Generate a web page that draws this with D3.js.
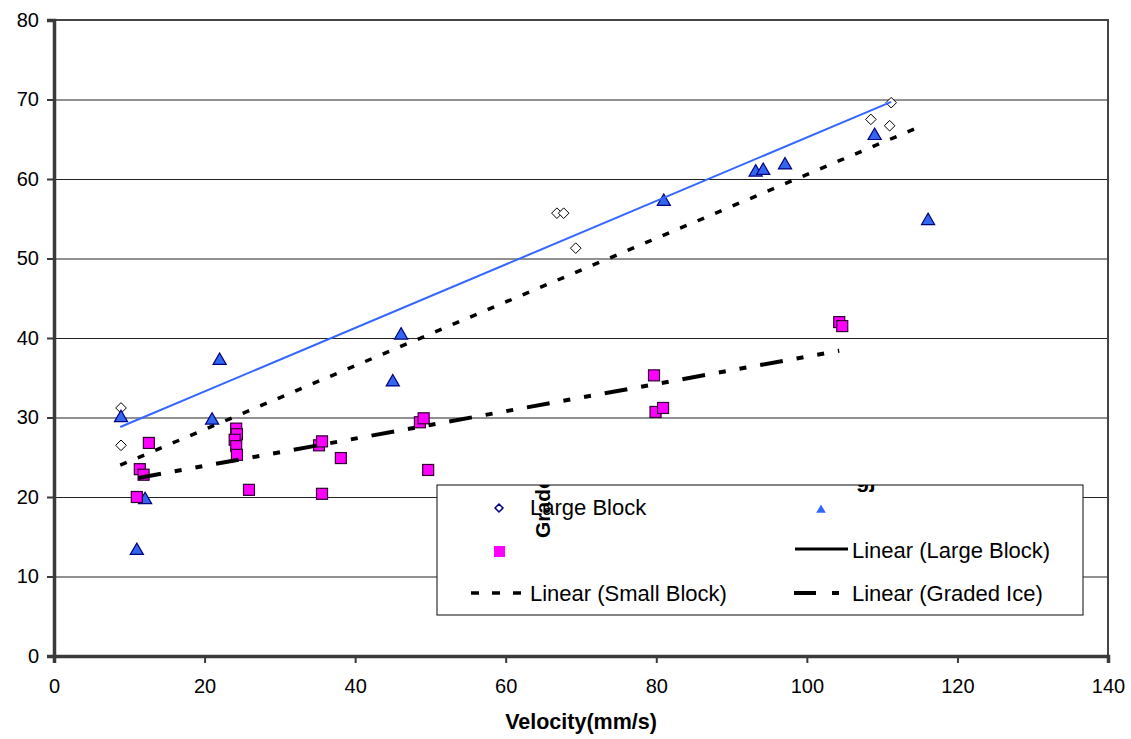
<!DOCTYPE html>
<html lang="en">
<head>
  <meta charset="UTF-8">
  <title>Velocity scatter</title>
  <script src="https://cdnjs.cloudflare.com/ajax/libs/d3/7.8.5/d3.min.js"></script>
  <style>
    body { margin: 0; background: white; }
    svg { font-family: Arial, "Liberation Sans", sans-serif; }
  </style>
</head>
<body>
  <script>
    // values: [velocity, y]
    var largeBlock = [
      [8.9, 31.2], [8.9, 26.5], [66.8, 55.7], [67.7, 55.7], [69.3, 51.3],
      [108.5, 67.5], [111.2, 69.6], [111.0, 66.7]
    ];
    var smallBlock = [
      [8.9, 30.2], [11.0, 13.5], [12.1, 19.9], [21.0, 29.9], [22.0, 37.4],
      [45.0, 34.7], [46.1, 40.6], [81.0, 57.4], [93.2, 61.1], [94.2, 61.3],
      [97.1, 62.0], [109.0, 65.7], [116.1, 55.0]
    ];
    var gradedIce = [
      [11.0, 20.0], [11.4, 23.5], [11.9, 22.8], [12.6, 26.8], [24.2, 28.6],
      [24.3, 27.9], [24.0, 27.2], [24.2, 26.4], [24.3, 25.3], [25.9, 20.9],
      [35.2, 26.5], [35.6, 27.0], [35.6, 20.4], [38.1, 24.9], [48.6, 29.4],
      [49.1, 29.9], [49.7, 23.4], [79.7, 35.3], [79.9, 30.7], [80.9, 31.2],
      [104.3, 42.0], [104.7, 41.5]
    ];
    // trend line end points
    var trendLarge = [[8.8, 28.8], [111.2, 69.7]];
    var trendSmall = [[8.8, 24.0], [115.3, 66.7]];
    var trendGraded = [[11.2, 22.4], [104.3, 38.4]];

    var xTicks = [0, 20, 40, 60, 80, 100, 120, 140];
    var yTicks = [0, 10, 20, 30, 40, 50, 60, 70, 80];

    var w = 1131, h = 739;
    var plotL = 54, plotR = 1108, plotT = 20, plotB = 656;

    var svg = d3.select("body").append("svg")
      .attr("width", w)
      .attr("height", h);

    var x = d3.scaleLinear().domain([0, 140]).range([plotL, plotR]);
    var y = d3.scaleLinear().domain([0, 80]).range([plotB, plotT]);

    // grid
    svg.append("g").selectAll("line")
      .data(yTicks.slice(1, -1))
      .enter().append("line")
      .attr("x1", plotL).attr("x2", plotR)
      .attr("y1", function(d) { return y(d) + 0.5; })
      .attr("y2", function(d) { return y(d) + 0.5; })
      .attr("stroke", "#222")
      .attr("stroke-width", 1);

    // frame
    svg.append("rect")
      .attr("x", plotL).attr("y", plotT)
      .attr("width", plotR - plotL).attr("height", plotB - plotT)
      .attr("fill", "none")
      .attr("stroke", "#444")
      .attr("stroke-width", 2);

    var xAxis = svg.append("g")
      .attr("transform", "translate(0," + plotB + ")")
      .call(d3.axisBottom(x).tickValues(xTicks).tickSize(7).tickPadding(16));
    var yAxis = svg.append("g")
      .attr("transform", "translate(" + plotL + ",0)")
      .call(d3.axisLeft(y).tickValues(yTicks).tickSize(7).tickPadding(8));

    [xAxis, yAxis].forEach(function(a) {
      a.select(".domain").attr("stroke", "#3a3a3a").attr("stroke-width", 3.5);
      a.selectAll(".tick line").attr("stroke", "#3a3a3a").attr("stroke-width", 2);
      a.selectAll(".tick text").attr("font-size", 20).attr("fill", "#000")
        .attr("font-family", "Arial, 'Liberation Sans', sans-serif");
    });

    svg.append("text")
      .attr("x", 581)
      .attr("y", 729)
      .attr("text-anchor", "middle")
      .attr("font-size", 21.5)
      .attr("font-weight", "bold")
      .text("Velocity(mm/s)");

    // markers
    var diamond = d3.symbol().type(d3.symbolDiamond2).size(72);
    var triangle = d3.symbol().type(d3.symbolTriangle).size(75);

    svg.append("g").selectAll("path")
      .data(largeBlock)
      .enter().append("path")
      .attr("d", diamond)
      .attr("transform", function(d) { return "translate(" + x(d[0]) + "," + y(d[1]) + ")"; })
      .attr("fill", "white")
      .attr("stroke", "#000")
      .attr("stroke-width", 1);

    // triangle symbol is centred on its centroid, nudge so the box centre sits on the value
    svg.append("g").selectAll("path")
      .data(smallBlock)
      .enter().append("path")
      .attr("d", triangle)
      .attr("transform", function(d) { return "translate(" + x(d[0]) + "," + (y(d[1]) + 2) + ")"; })
      .attr("fill", "#3366ee")
      .attr("stroke", "#000080")
      .attr("stroke-width", 1.2);

    svg.append("g").selectAll("rect")
      .data(gradedIce)
      .enter().append("rect")
      .attr("x", function(d) { return x(d[0]) - 5.5; })
      .attr("y", function(d) { return y(d[1]) - 5.5; })
      .attr("width", 11).attr("height", 11)
      .attr("fill", "#ff00ff")
      .attr("stroke", "#300030")
      .attr("stroke-width", 1.2);

    // trend lines
    var line = d3.line()
      .x(function(d) { return x(d[0]); })
      .y(function(d) { return y(d[1]); });

    svg.append("path").datum(trendLarge)
      .attr("d", line).attr("fill", "none")
      .attr("stroke", "#3366ff").attr("stroke-width", 2);
    svg.append("path").datum(trendSmall)
      .attr("d", line).attr("fill", "none")
      .attr("stroke", "#000").attr("stroke-width", 3.5)
      .attr("stroke-dasharray", "7,12");
    svg.append("path").datum(trendGraded)
      .attr("d", line).attr("fill", "none")
      .attr("stroke", "#000").attr("stroke-width", 4)
      .attr("stroke-dasharray", "23,14,7,14,7,14");

    // legend
    var lg = { x: 437, y: 485, w: 646, h: 130 };
    svg.append("clipPath").attr("id", "legclip")
      .append("rect").attr("x", lg.x).attr("y", lg.y).attr("width", lg.w).attr("height", lg.h);

    var legend = svg.append("g");
    legend.append("rect")
      .attr("x", lg.x).attr("y", lg.y)
      .attr("width", lg.w).attr("height", lg.h)
      .attr("fill", "white")
      .attr("stroke", "#333")
      .attr("stroke-width", 1.2);

    legend.append("path")
      .attr("d", d3.symbol().type(d3.symbolDiamond2).size(40))
      .attr("transform", "translate(499,508)")
      .attr("fill", "white").attr("stroke", "#000080").attr("stroke-width", 1.5);
    legend.append("path")
      .attr("d", d3.symbol().type(d3.symbolTriangle).size(40))
      .attr("transform", "translate(821,510)")
      .attr("fill", "#3366ff");
    legend.append("rect")
      .attr("x", 494).attr("y", 546).attr("width", 11).attr("height", 11)
      .attr("fill", "#ff00ff");

    legend.append("line")
      .attr("x1", 795).attr("x2", 848).attr("y1", 549).attr("y2", 549)
      .attr("stroke", "#000").attr("stroke-width", 3);
    legend.append("line")
      .attr("x1", 471).attr("x2", 522).attr("y1", 593).attr("y2", 593)
      .attr("stroke", "#000").attr("stroke-width", 3.5)
      .attr("stroke-dasharray", "8,13");
    legend.append("line")
      .attr("x1", 794).attr("x2", 846).attr("y1", 593).attr("y2", 593)
      .attr("stroke", "#000").attr("stroke-width", 4)
      .attr("stroke-dasharray", "22,16,7,20");

    var legText = [
      { t: "Large Block", x: 530, y: 515 },
      { t: "Linear (Large Block)", x: 852, y: 558 },
      { t: "Linear (Small Block)", x: 530, y: 601 },
      { t: "Linear (Graded Ice)", x: 852, y: 601 }
    ];
    legend.selectAll("text.lt")
      .data(legText)
      .enter().append("text")
      .attr("class", "lt")
      .attr("x", function(d) { return d.x; })
      .attr("y", function(d) { return d.y; })
      .attr("font-size", 22)
      .text(function(d) { return d.t; });

    // stray title fragments showing through the legend
    var stray = legend.append("g").attr("clip-path", "url(#legclip)");
    stray.append("text")
      .attr("transform", "translate(550,538) rotate(-90)")
      .attr("font-size", 21)
      .attr("font-weight", "bold")
      .text("Graded Ice");
    stray.append("text")
      .attr("x", 856).attr("y", 487)
      .attr("font-size", 22)
      .attr("font-weight", "bold")
      .text("gj");
  </script>
</body>
</html>
